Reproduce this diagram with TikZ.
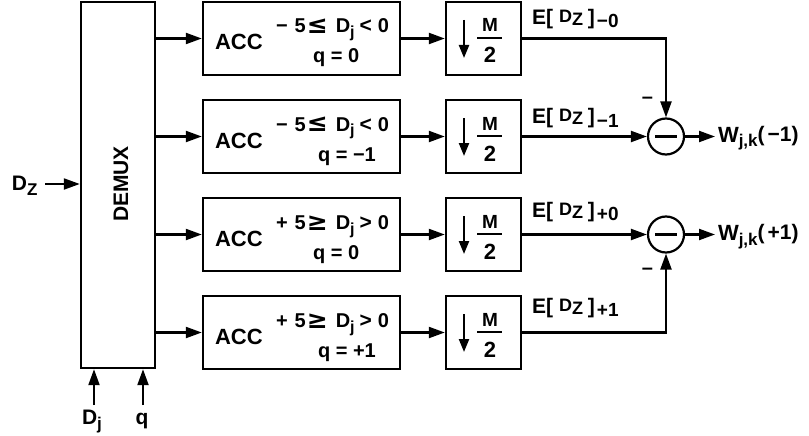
\documentclass[tikz,border=0pt]{standalone}
\usepackage{fontspec}
\setmainfont{Liberation Sans}
\newfontfamily\relfont{DejaVu Sans}
\usetikzlibrary{arrows.meta}

% font size helper (size in pt, leading = size)
\newcommand\fs[1]{\fontsize{#1}{#1}\selectfont}
% range condition inside an accumulator box
\newcommand\rangecond[3]{{\fs{20}#1\hspace{7pt}5\hspace{1pt}\raisebox{-1pt}{\relfont\bfseries\fs{25}#2}\hspace{8pt}D\raisebox{-5pt}{\fs{16}j}\hspace{5pt}{\fs{21}#3}\hspace{6pt}0}}
% expectation label E[D_Z]_n
\newcommand\elabel[1]{{\fs{21}E[}\hspace{6pt}\raisebox{2pt}{\fs{18}D}\raisebox{-1pt}{\fs{18}Z}\hspace{5pt}{\fs{21}]}\hspace{2pt}\raisebox{-3pt}{\fs{19}#1}}
% output label W_{j,k}(n)
\newcommand\wlabel[1]{{\fs{22}W}\raisebox{-5pt}{\fs{17}j,k}\raisebox{1pt}{\fs{21}(\hspace{3pt}#1)}}

\begin{document}
\begin{tikzpicture}[x=1pt,y=-1pt, font=\bfseries,
  blk/.style={draw, line width=2.4pt, inner sep=0pt},
  wire/.style={line width=2.2pt, -{Triangle[length=16pt,width=11pt]}},
  dnarrow/.style={line width=2.2pt, -{Triangle[length=13pt,width=10pt]}},
  txt/.style={inner sep=0pt, outer sep=0pt},
  sumnode/.style={draw, circle, line width=2.2pt, minimum size=36pt, inner sep=0pt},
]
\useasboundingbox (0,0) rectangle (809,436);

% demultiplexer
\node[blk, minimum width=74pt, minimum height=366pt] (demux) at (118,185) {};
\node[txt, rotate=90, font=\bfseries\fs{21}] (demuxlbl) at (121,184) {DEMUX};

% input D_Z
\node[txt, anchor=base west] (dzlbl) at (12,190) {{\fs{21}D}\raisebox{-5pt}{\fs{17}Z}};
\coordinate (dzin) at (45,184);
\draw[wire] (dzin) -- (demux.west |- dzin);

% control inputs D_j and q
\coordinate (djin) at (94,405);
\coordinate (qin) at (143,405);
\draw[wire] (djin) -- (djin |- demux.south);
\draw[wire] (qin) -- (qin |- demux.south);
\node[txt, anchor=base west] (djlbl) at (82,424) {{\fs{21}D}\raisebox{-5pt}{\fs{17}j}};
\node[txt, anchor=base] (qlbl) at (142,424) {\fs{21}q};

% four accumulator / decimator branches
\foreach \i/\sg/\ra/\rb/\q/\qx/\eb/\en in {
  1/{\char"2212}/{≤}/{<}/{0}/313/25/{\char"2212 0},
  2/{\char"2212}/{≤}/{<}/{\char"2212 1}/318/124/{\char"2212 1},
  3/{+}/{≥}/{>}/{0}/313/217/{+0},
  4/{+}/{≥}/{>}/{+1}/318/313/{+1}}{
  \pgfmathsetmacro\yt{2+98*(\i-1)}
  \pgfmathsetmacro\yc{\yt+36.5}
  \node[blk, minimum width=197pt, minimum height=73pt] (acc\i) at (301.5,\yc) {};
  \node[txt, anchor=base west, font=\bfseries\fs{22}] (acclbl\i) at (215,\yt+48) {ACC};
  \node[txt, anchor=base west] (cond\i) at (276,\yt+31) {\rangecond{\sg}{\ra}{\rb}};
  \node[txt, anchor=base west, font=\bfseries\fs{20}] (qval\i) at (\qx,\yt+61) {q = \q};
  \node[blk, minimum width=75pt, minimum height=73pt] (dec\i) at (483.5,\yc) {};
  \draw[dnarrow] (464,\yt+18) -- (464,\yt+56);
  \node[txt, anchor=base, font=\bfseries\fs{19}] (decm\i) at (490,\yt+30) {M};
  \draw[line width=2pt] (477,\yt+36) -- (502,\yt+36);
  \node[txt, anchor=base, font=\bfseries\fs{22}] (dec2\i) at (490,\yt+61) {2};
  \draw[wire] (demux.east |- acc\i.west) -- (acc\i.west);
  \draw[wire] (acc\i.east) -- (dec\i.west);
  \node[txt, anchor=base west] (elbl\i) at (532,\eb) {\elabel{\en}};
}

% subtractors
\node[sumnode] (sub1) at (666,136.5) {};
\node[sumnode] (sub2) at (666,234.5) {};
\foreach \s in {1,2}
  \draw[line width=2.2pt] ([xshift=-11pt]sub\s.center) -- ([xshift=11pt]sub\s.center);

\draw[wire] (dec1.east) -| (sub1.north);
\draw[wire] (dec2.east) -- (sub1.west);
\draw[wire] (dec3.east) -- (sub2.west);
\draw[wire] (dec4.east) -| (sub2.south);

\node[txt, font=\bfseries\fs{20}] (neg1) at (647.5,100) {–};
\node[txt, font=\bfseries\fs{20}] (neg2) at (647.5,271) {–};

% outputs
\coordinate (out1) at (715,136.5);
\coordinate (out2) at (715,234.5);
\draw[wire] (sub1.east) -- (out1);
\draw[wire] (sub2.east) -- (out2);
\node[txt, anchor=base west] (wlbl1) at (718,142) {\wlabel{\char"2212 1}};
\node[txt, anchor=base west] (wlbl2) at (718,240) {\wlabel{+1}};
\end{tikzpicture}
\end{document}
